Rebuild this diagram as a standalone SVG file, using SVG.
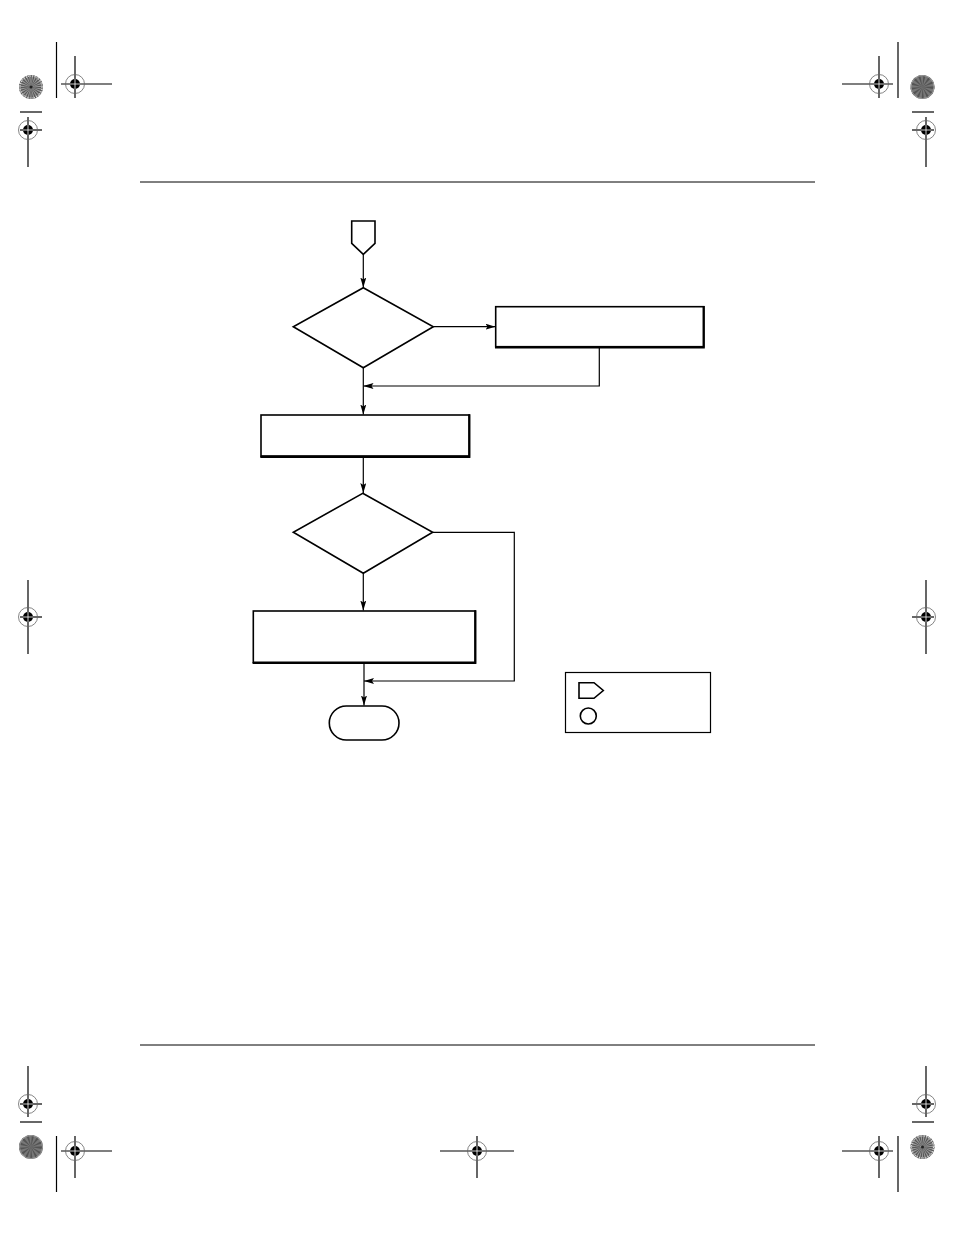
<svg xmlns="http://www.w3.org/2000/svg" width="954" height="1235" viewBox="0 0 954 1235">
<style>
.ln{fill:none;stroke:#000;stroke-width:1.2}
.sh{fill:#fff;stroke:#000;stroke-width:1.6}
.rule{stroke:#000;stroke-width:1}
.reg{fill:none;stroke:#000;stroke-width:1.2}
.regc{fill:none;stroke:#666;stroke-width:0.8}
</style>
<defs>
<marker id="ah" viewBox="0 0 10 6" refX="10" refY="3" markerWidth="10" markerHeight="6" markerUnits="userSpaceOnUse" orient="auto">
<path d="M0,0 L10,3 L0,6 L2,3 Z" fill="#000"/>
</marker>
<g id="rm">
<circle r="9.5" class="regc"/>
<circle r="5" fill="#000"/>
<path d="M-5,0 H5 M0,-5 V5" stroke="#fff" stroke-width="0.8"/>
</g>
<g id="burst">
<circle r="12" fill="#999"/>
<circle r="6" fill="none" stroke="#444" stroke-width="12" stroke-dasharray="0.8 0.8" opacity="0.8"/>
<circle r="11" fill="none" stroke="#ddd" stroke-width="1.2" stroke-dasharray="1 1.2"/>
<circle r="1.5" fill="#222"/>
</g>
<g id="dburst">
<circle r="12" fill="#777"/>
<circle r="6" fill="none" stroke="#444" stroke-width="12" stroke-dasharray="1.2 1.6" opacity="0.7"/>
<circle r="11.5" fill="none" stroke="#999" stroke-width="1"/>
</g>
</defs>
<rect width="954" height="1235" fill="#fff"/>

<g id="printmarks">
<line class="rule" x1="140" y1="182" x2="815" y2="182"/>
<line class="rule" x1="140" y1="1045" x2="815" y2="1045"/>
<!-- top left -->
<use href="#burst" x="31" y="87"/>
<line class="reg" x1="56.5" y1="42" x2="56.5" y2="98"/>
<line class="reg" x1="61" y1="84" x2="112" y2="84"/>
<line class="reg" x1="75" y1="56" x2="75" y2="98"/>
<use href="#rm" x="75" y="84"/>
<line class="reg" x1="20" y1="112" x2="42" y2="112"/>
<line class="reg" x1="20" y1="130" x2="42" y2="130"/>
<line class="reg" x1="28" y1="117" x2="28" y2="167"/>
<use href="#rm" x="28" y="130"/>
<!-- top right -->
<use href="#dburst" x="922.5" y="87"/>
<line class="reg" x1="898" y1="42" x2="898" y2="98"/>
<line class="reg" x1="842" y1="84" x2="893" y2="84"/>
<line class="reg" x1="879" y1="56" x2="879" y2="98"/>
<use href="#rm" x="879" y="84"/>
<line class="reg" x1="912" y1="112" x2="934" y2="112"/>
<line class="reg" x1="912" y1="130" x2="934" y2="130"/>
<line class="reg" x1="926" y1="117" x2="926" y2="167"/>
<use href="#rm" x="926" y="130"/>
<!-- middle -->
<line class="reg" x1="28" y1="580" x2="28" y2="654"/>
<line class="reg" x1="20" y1="617" x2="42" y2="617"/>
<use href="#rm" x="28" y="617"/>
<line class="reg" x1="926" y1="580" x2="926" y2="654"/>
<line class="reg" x1="912" y1="617" x2="934" y2="617"/>
<use href="#rm" x="926" y="617"/>
<!-- bottom left -->
<line class="reg" x1="28" y1="1066" x2="28" y2="1117"/>
<line class="reg" x1="20" y1="1104" x2="42" y2="1104"/>
<use href="#rm" x="28" y="1104"/>
<line class="reg" x1="20" y1="1122" x2="42" y2="1122"/>
<use href="#dburst" x="31" y="1147"/>
<line class="reg" x1="56.5" y1="1136" x2="56.5" y2="1192"/>
<line class="reg" x1="61" y1="1151" x2="112" y2="1151"/>
<line class="reg" x1="75" y1="1136" x2="75" y2="1178"/>
<use href="#rm" x="75" y="1151"/>
<!-- bottom center -->
<line class="reg" x1="440" y1="1151" x2="514" y2="1151"/>
<line class="reg" x1="477" y1="1136" x2="477" y2="1178"/>
<use href="#rm" x="477" y="1151"/>
<!-- bottom right -->
<line class="reg" x1="926" y1="1066" x2="926" y2="1117"/>
<line class="reg" x1="912" y1="1104" x2="934" y2="1104"/>
<use href="#rm" x="926" y="1104"/>
<line class="reg" x1="912" y1="1122" x2="934" y2="1122"/>
<use href="#burst" x="922.5" y="1147"/>
<line class="reg" x1="898" y1="1136" x2="898" y2="1192"/>
<line class="reg" x1="842" y1="1151" x2="893" y2="1151"/>
<line class="reg" x1="879" y1="1136" x2="879" y2="1178"/>
<use href="#rm" x="879" y="1151"/>
</g>

<g id="connectors">
<path class="ln" d="M363.3,254.5 V287.5" marker-end="url(#ah)"/>
<path class="ln" d="M433.3,326.7 H495.5" marker-end="url(#ah)"/>
<path class="ln" d="M599.3,347 V386 H363.5" marker-end="url(#ah)"/>
<path class="ln" d="M363.3,368 V414.5" marker-end="url(#ah)"/>
<path class="ln" d="M363.3,456.5 V493" marker-end="url(#ah)"/>
<path class="ln" d="M432.7,532.3 H514.3 V681 H364" marker-end="url(#ah)"/>
<path class="ln" d="M363.3,573.5 V610.5" marker-end="url(#ah)"/>
<path class="ln" d="M364,662.5 V705.5" marker-end="url(#ah)"/>
</g>

<g id="start">
<path class="sh" d="M351.7,221 H375 V243.3 L363.3,254.3 L351.7,243.3 Z"/>
</g>
<g id="decision1">
<path class="sh" d="M363.3,287.7 L433.3,326.7 L363.3,367.7 L293.3,326.7 Z"/>
</g>
<g id="process1">
<rect class="sh" x="495.7" y="306.7" width="208" height="40"/>
<path d="M703.7,306 V347.5 H495" fill="none" stroke="#000" stroke-width="2.2"/>
</g>
<g id="process2">
<rect class="sh" x="261" y="415" width="208.3" height="41"/>
<path d="M469.3,414.3 V456.8 H260.3" fill="none" stroke="#000" stroke-width="2.2"/>
</g>
<g id="decision2">
<path class="sh" d="M362.7,493.3 L432.7,532.3 L363.3,573.3 L293.3,532.3 Z"/>
</g>
<g id="process3">
<rect class="sh" x="253.3" y="611" width="222" height="51.3"/>
<path d="M475.3,610.3 V663 H252.6" fill="none" stroke="#000" stroke-width="2.2"/>
</g>
<g id="end">
<rect class="sh" x="329.3" y="706" width="69.7" height="34" rx="17" ry="17"/>
</g>
<g id="legend">
<rect x="565.5" y="672.5" width="145" height="60" fill="#fff" stroke="#000" stroke-width="1.2"/>
<path class="sh" d="M579,682.7 H594 L603.3,690.5 L594,698.3 H579 Z"/>
<circle class="sh" cx="588.3" cy="716" r="8"/>
</g>
</svg>
